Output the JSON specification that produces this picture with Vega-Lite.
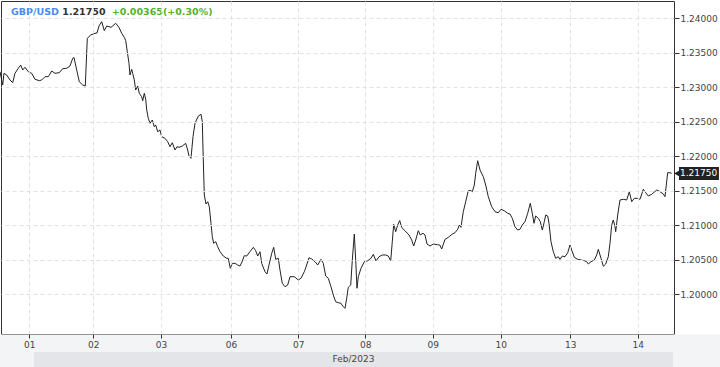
{
  "$schema": "https://vega.github.io/schema/vega-lite/v6.json",
  "width": 673,
  "height": 333,
  "autosize": {"type": "none"},
  "padding": {"left": 1, "top": 1, "right": 46, "bottom": 33},
  "background": "white",
  "config": {
    "view": {"stroke": "#333", "strokeWidth": 1},
    "axis": {"labelFont": "DejaVu Sans", "labelFontSize": 9, "labelColor": "#444", "tickColor": "#333", "domain": false, "gridColor": "#e2e2e2", "gridDash": [4, 3], "gridWidth": 1}
  },
  "data": {"values": [{"k": 1}]},
  "datasets": {
    "fx": [
      {"t":0,"p":1.23225},{"t":0.96,"p":1.23032},{"t":1.42,"p":1.23202},{"t":2.39,"p":1.23177},{"t":3.56,"p":1.23105},{"t":4.52,"p":1.23066},{"t":5.34,"p":1.23202},{"t":6.52,"p":1.23275},{"t":7.37,"p":1.23322},{"t":8.08,"p":1.2325},{"t":8.9,"p":1.23289},{"t":10.08,"p":1.23225},{"t":11.29,"p":1.23202},{"t":12.46,"p":1.23115},{"t":13.99,"p":1.23095},{"t":14.85,"p":1.23105},{"t":16.02,"p":1.23153},{"t":17.2,"p":1.23153},{"t":18.41,"p":1.23235},{"t":19.58,"p":1.23202},{"t":21.12,"p":1.23211},{"t":22.33,"p":1.23269},{"t":23.75,"p":1.23275},{"t":24.93,"p":1.23308},{"t":25.89,"p":1.2342},{"t":26.35,"p":1.23431},{"t":27.31,"p":1.2325},{"t":28.24,"p":1.2308},{"t":29.45,"p":1.23032},{"t":30.37,"p":1.23018},
      {"t":31.09,"p":1.2371},{"t":32.3,"p":1.23758},{"t":33.83,"p":1.23782},{"t":34.54,"p":1.23787},{"t":35.25,"p":1.23888},{"t":36.21,"p":1.23951},{"t":37.14,"p":1.2382},{"t":37.99,"p":1.23888},{"t":39.53,"p":1.23869},{"t":41.2,"p":1.23927},{"t":42.37,"p":1.23869},{"t":43.34,"p":1.23782},{"t":44.26,"p":1.23724},{"t":44.76,"p":1.23675},{"t":45.33,"p":1.23515},{"t":45.93,"p":1.23347},{"t":46.29,"p":1.23177},{"t":46.9,"p":1.2326},{"t":47.25,"p":1.23202},{"t":47.82,"p":1.23105},{"t":48.32,"p":1.2296},{"t":49.03,"p":1.23018},{"t":49.6,"p":1.22912},{"t":50.46,"p":1.22862},{"t":50.81,"p":1.22804},{"t":51.38,"p":1.22912},{"t":51.88,"p":1.22825},{"t":52.24,"p":1.2267},{"t":52.81,"p":1.22549},{"t":53.41,"p":1.22477},
      {"t":54.23,"p":1.22524},{"t":54.94,"p":1.22427},{"t":55.44,"p":1.22452},{"t":56.15,"p":1.22355},{"t":56.97,"p":1.22379},{"t":57.58,"p":1.22282},{"t":58.75,"p":1.22259},{"t":59.71,"p":1.2221},{"t":60.53,"p":1.22137},{"t":61.35,"p":1.22195},{"t":62.31,"p":1.22089},{"t":63.03,"p":1.22137},{"t":63.74,"p":1.22128},{"t":64.91,"p":1.22147},{"t":66.12,"p":1.22186},{"t":66.84,"p":1.22089},{"t":67.3,"p":1.22002},{"t":68.01,"p":1.21969},{"t":68.72,"p":1.22282},{"t":69.44,"p":1.22477},{"t":70.61,"p":1.22582},{"t":71.57,"p":1.22607},{"t":72.04,"p":1.225},{"t":72.39,"p":1.21944},{"t":72.75,"p":1.21436},{"t":73.35,"p":1.21306},{"t":73.96,"p":1.21339},{"t":74.53,"p":1.21266},{"t":75.13,"p":1.21026},{"t":75.6,"p":1.20831},
      {"t":76.09,"p":1.20735},{"t":76.81,"p":1.20759},{"t":77.52,"p":1.20686},{"t":78.34,"p":1.20614},{"t":79.51,"p":1.20551},{"t":80.72,"p":1.20518},{"t":81.29,"p":1.20518},{"t":82.01,"p":1.20373},{"t":82.72,"p":1.20445},{"t":83.68,"p":1.20445},{"t":84.64,"p":1.20421},{"t":85.46,"p":1.20406},{"t":86.17,"p":1.20464},{"t":86.99,"p":1.20556},{"t":87.85,"p":1.20551},{"t":89.02,"p":1.20614},{"t":90.2,"p":1.20677},{"t":91.05,"p":1.20628},{"t":91.76,"p":1.20551},{"t":92.58,"p":1.20614},{"t":93.19,"p":1.20445},{"t":94.36,"p":1.20323},{"t":95.07,"p":1.2029},{"t":95.79,"p":1.20421},{"t":96.75,"p":1.2059},{"t":97.46,"p":1.20677},{"t":98.17,"p":1.20503},{"t":99.1,"p":1.20518},{"t":99.7,"p":1.20348},{"t":100.52,"p":1.20155},
      {"t":101.48,"p":1.20106},{"t":102.44,"p":1.2013},{"t":103.26,"p":1.20251},{"t":104.79,"p":1.20251},{"t":106.22,"p":1.20203},{"t":107.18,"p":1.20228},{"t":108.36,"p":1.20323},{"t":109.21,"p":1.20421},{"t":110.03,"p":1.20527},{"t":110.99,"p":1.20508},{"t":112.17,"p":1.20469},{"t":113.13,"p":1.20421},{"t":114.3,"p":1.20503},{"t":115.12,"p":1.20445},{"t":115.98,"p":1.20261},{"t":116.9,"p":1.20228},{"t":117.86,"p":1.20106},{"t":118.68,"p":1.19985},{"t":119.53,"p":1.19888},{"t":120.46,"p":1.19874},{"t":121.42,"p":1.19865},{"t":122.03,"p":1.19826},{"t":122.85,"p":1.19792},{"t":123.45,"p":1.19938},{"t":124.02,"p":1.20097},{"t":124.88,"p":1.2013},{"t":125.45,"p":1.20493},{"t":126.16,"p":1.2087},{"t":126.66,"p":1.20493},{"t":127.12,"p":1.20083},
      {"t":127.59,"p":1.20251},{"t":128.55,"p":1.20373},{"t":129.72,"p":1.20469},{"t":130.93,"p":1.20483},{"t":132.11,"p":1.20518},{"t":132.93,"p":1.20576},{"t":133.89,"p":1.20479},{"t":134.96,"p":1.20541},{"t":136.13,"p":1.20566},{"t":137.34,"p":1.20566},{"t":138.27,"p":1.20551},{"t":139.12,"p":1.20479},{"t":139.69,"p":1.20759},{"t":140.19,"p":1.21011},{"t":140.9,"p":1.20904},{"t":141.62,"p":1.21001},{"t":142.33,"p":1.21066},{"t":143.04,"p":1.20965},{"t":144.21,"p":1.20918},{"t":145.64,"p":1.20856},{"t":146.6,"p":1.20783},{"t":147.31,"p":1.20696},{"t":148.02,"p":1.20783},{"t":148.95,"p":1.20918},{"t":149.66,"p":1.20856},{"t":150.62,"p":1.20881},{"t":151.34,"p":1.20856},{"t":152.05,"p":1.20725},{"t":153.12,"p":1.20696},{"t":154.29,"p":1.20725},
      {"t":155.86,"p":1.20715},{"t":156.57,"p":1.20711},{"t":157.28,"p":1.20653},{"t":158.46,"p":1.20793},{"t":159.63,"p":1.20822},{"t":161.06,"p":1.2087},{"t":162.02,"p":1.20889},{"t":162.98,"p":1.20939},{"t":163.55,"p":1.21001},{"t":164.15,"p":1.20968},{"t":164.97,"p":1.21194},{"t":165.83,"p":1.21339},{"t":166.75,"p":1.21499},{"t":167.71,"p":1.21499},{"t":168.18,"p":1.21484},{"t":168.89,"p":1.21581},{"t":169.39,"p":1.21751},{"t":170.1,"p":1.21934},{"t":170.92,"p":1.21799},{"t":172.09,"p":1.21702},{"t":172.95,"p":1.21581},{"t":173.87,"p":1.21412},{"t":175.08,"p":1.21266},{"t":176.26,"p":1.21194},{"t":177.44,"p":1.21179},{"t":178.4,"p":1.21229},{"t":179.57,"p":1.21208},{"t":180.78,"p":1.21171},{"t":181.6,"p":1.21161},{"t":182.42,"p":1.21098},
      {"t":183.38,"p":1.20976},{"t":184.34,"p":1.20928},{"t":185.16,"p":1.20939},{"t":185.98,"p":1.21001},{"t":186.94,"p":1.21049},{"t":187.9,"p":1.21171},{"t":188.83,"p":1.21316},{"t":189.54,"p":1.21171},{"t":190.15,"p":1.21026},{"t":190.75,"p":1.21132},{"t":191.68,"p":1.21098},{"t":192.39,"p":1.21049},{"t":193.11,"p":1.20928},{"t":193.82,"p":1.21049},{"t":194.32,"p":1.21146},{"t":195.03,"p":1.21132},{"t":195.49,"p":1.21026},{"t":196.2,"p":1.20759},{"t":197.02,"p":1.20614},{"t":197.88,"p":1.20518},{"t":198.8,"p":1.20541},{"t":199.41,"p":1.20503},{"t":200.23,"p":1.20551},{"t":201.19,"p":1.20541},{"t":202.15,"p":1.20599},{"t":202.97,"p":1.20711},{"t":203.57,"p":1.20638},{"t":204.5,"p":1.20532},{"t":205.71,"p":1.20503},{"t":206.88,"p":1.20493},
      {"t":208.06,"p":1.20483},{"t":208.91,"p":1.20469},{"t":209.48,"p":1.20435},{"t":210.45,"p":1.20469},{"t":211.62,"p":1.20493},{"t":212.48,"p":1.20566},{"t":213.05,"p":1.20648},{"t":214.01,"p":1.20518},{"t":214.83,"p":1.20402},{"t":215.68,"p":1.20435},{"t":216.61,"p":1.20541},{"t":217.21,"p":1.20735},{"t":217.82,"p":1.21001},{"t":218.39,"p":1.21074},{"t":218.99,"p":1.20976},{"t":219.24,"p":1.20904},{"t":219.95,"p":1.21146},{"t":220.77,"p":1.21364},{"t":221.95,"p":1.21374},{"t":223.16,"p":1.21364},{"t":224.09,"p":1.21484},{"t":224.94,"p":1.21339},{"t":225.87,"p":1.21388},{"t":227.07,"p":1.21388},{"t":227.89,"p":1.21374},{"t":229.07,"p":1.21519},{"t":229.92,"p":1.2147},{"t":230.85,"p":1.21422},{"t":232.06,"p":1.21446},{"t":233.84,"p":1.21509},
      {"t":235.01,"p":1.21484},{"t":236.19,"p":1.21451},{"t":236.79,"p":1.21412},{"t":237.75,"p":1.2176},{"t":238.58,"p":1.2176},{"t":239.18,"p":1.2175}
    ]
  },
  "layer": [
    {
      "mark": {"type": "rect", "color": "#f3f4f6", "clip": false},
      "encoding": {
        "x": {"datum": -1, "type": "quantitative", "title": null},
        "x2": {"datum": 258},
        "y": {"datum": 1.19412, "type": "quantitative", "title": null},
        "y2": {"datum": 1.1885}
      }
    },
    {
      "mark": {"type": "rect", "color": "#e4e5e8", "clip": false},
      "encoding": {
        "x": {"datum": 12.1, "type": "quantitative", "title": null},
        "x2": {"datum": 239.64},
        "y": {"datum": 1.19158, "type": "quantitative", "title": null},
        "y2": {"datum": 1.1885}
      }
    },
    {
      "data": {"name": "fx"},
      "mark": {"type": "line", "color": "#222", "strokeWidth": 1, "interpolate": "linear"},
      "encoding": {
        "x": {
          "field": "t", "type": "quantitative", "title": null,
          "scale": {"domain": [0.356, 240], "nice": false, "zero": false},
          "axis": {
            "orient": "bottom", "zindex": 2,
            "values": [10.43, 33.22, 57.33, 82.26, 106.22, 130.08, 154.08, 178.29, 203.08, 227.07],
            "labelExpr": "datum.value < 20 ? '01' : datum.value < 45 ? '02' : datum.value < 70 ? '03' : datum.value < 95 ? '06' : datum.value < 118 ? '07' : datum.value < 142 ? '08' : datum.value < 166 ? '09' : datum.value < 190 ? '10' : datum.value < 215 ? '13' : '14'",
            "tickSize": 4, "labelPadding": 2, "grid": true
          }
        },
        "y": {
          "field": "p", "type": "quantitative", "title": null,
          "scale": {"domain": [1.194197, 1.24251], "nice": false, "zero": false},
          "axis": {
            "orient": "right", "zindex": 2,
            "values": [1.2, 1.205, 1.21, 1.215, 1.22, 1.225, 1.23, 1.235, 1.24],
            "format": ".5f", "tickSize": 5, "labelPadding": 1, "grid": true
          }
        }
      }
    },
    {
      "mark": {"type": "text", "text": "GBP/USD", "font": "DejaVu Sans", "fontSize": 9.5, "fontWeight": "bold", "color": "#4a8af4", "align": "left", "baseline": "middle"},
      "encoding": {
        "x": {"datum": 3.92, "type": "quantitative", "title": null},
        "y": {"datum": 1.24091, "type": "quantitative", "title": null}
      }
    },
    {
      "mark": {"type": "text", "text": "1.21750", "font": "DejaVu Sans", "fontSize": 9.5, "fontWeight": "bold", "color": "#333", "align": "left", "baseline": "middle"},
      "encoding": {
        "x": {"datum": 22.18, "type": "quantitative", "title": null},
        "y": {"datum": 1.24091, "type": "quantitative", "title": null}
      }
    },
    {
      "mark": {"type": "text", "text": "+0.00365(+0.30%)", "font": "DejaVu Sans", "fontSize": 9.5, "fontWeight": "bold", "color": "#55b22c", "align": "left", "baseline": "middle"},
      "encoding": {
        "x": {"datum": 39.77, "type": "quantitative", "title": null},
        "y": {"datum": 1.24091, "type": "quantitative", "title": null}
      }
    },
    {
      "mark": {"type": "text", "text": "Feb/2023", "font": "DejaVu Sans", "fontSize": 9, "color": "#444", "align": "center", "baseline": "middle", "clip": false},
      "encoding": {
        "x": {"datum": 125.88, "type": "quantitative", "title": null},
        "y": {"datum": 1.19064, "type": "quantitative", "title": null}
      }
    },
    {
      "mark": {"type": "rect", "color": "#222", "clip": false},
      "encoding": {
        "x": {"datum": 241.78, "type": "quantitative", "title": null},
        "x2": {"datum": 256.0},
        "y": {"datum": 1.21842, "type": "quantitative", "title": null},
        "y2": {"datum": 1.21654}
      }
    },
    {
      "mark": {"type": "point", "shape": "triangle-left", "filled": true, "color": "#222", "size": 45, "opacity": 1, "clip": false},
      "encoding": {
        "x": {"datum": 241.1, "type": "quantitative", "title": null},
        "y": {"datum": 1.2175, "type": "quantitative", "title": null}
      }
    },
    {
      "mark": {"type": "text", "text": "1.21750", "font": "DejaVu Sans", "fontSize": 9, "color": "white", "align": "left", "baseline": "middle", "clip": false},
      "encoding": {
        "x": {"datum": 242.14, "type": "quantitative", "title": null},
        "y": {"datum": 1.2175, "type": "quantitative", "title": null}
      }
    }
  ]
}
